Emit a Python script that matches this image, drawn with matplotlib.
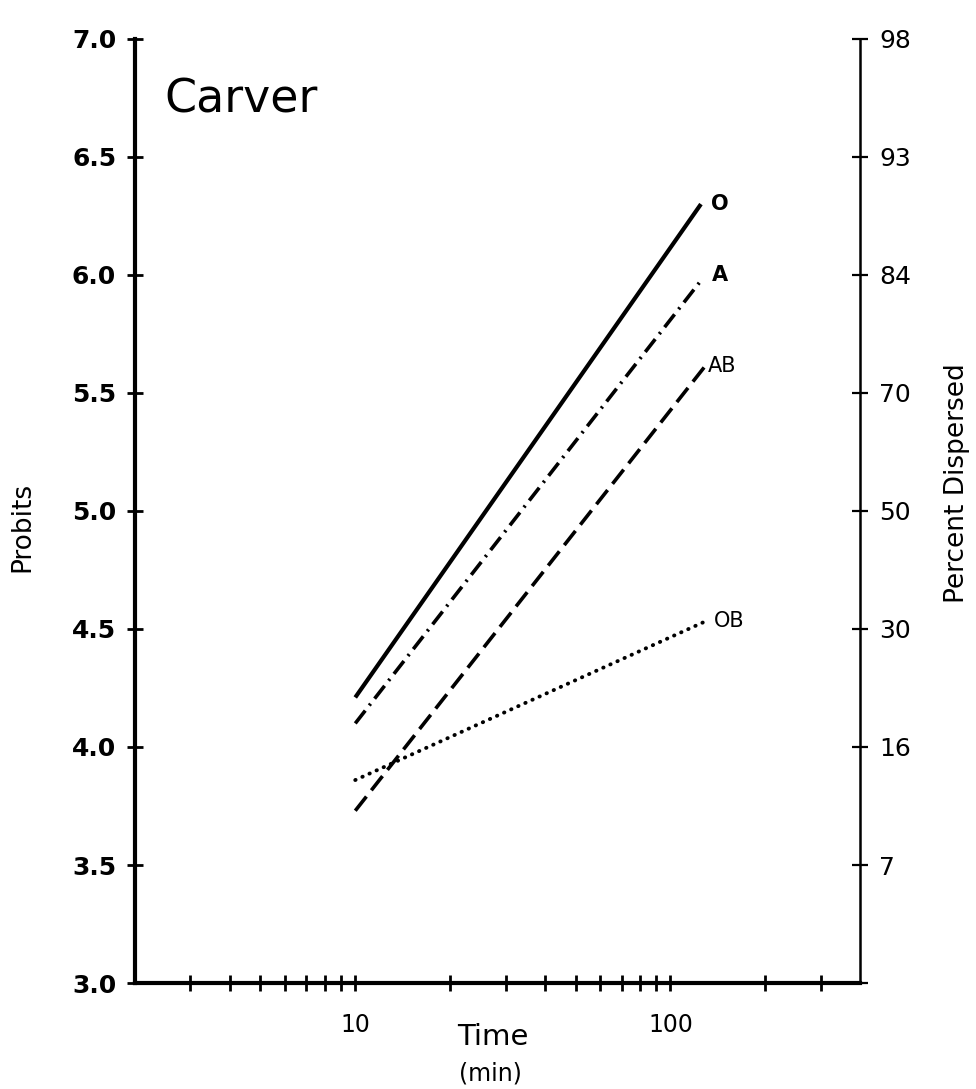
import matplotlib
matplotlib.use("Agg")
import matplotlib.pyplot as plt
from matplotlib.ticker import NullLocator

# probit regression lines for each blood group, time in minutes
groups = ["O", "A", "AB", "OB"]
t_start = [10, 10, 10, 10]
t_end = [125, 124, 130, 128]
probit_start = [4.21, 4.10, 3.73, 3.86]
probit_end = [6.30, 5.97, 5.62, 4.53]

probit_ticks = [3.0, 3.5, 4.0, 4.5, 5.0, 5.5, 6.0, 6.5, 7.0]
percent_labels = ["", "7", "16", "30", "50", "70", "84", "93", "98"]
time_ticks = [3, 4, 5, 6, 7, 8, 9, 10, 20, 30, 40, 50, 60, 70, 80, 90, 100, 200, 300]
time_labels = ["10", "100"]

# line style / label styling per group
styles = {
    "O": dict(linestyle="-", lw=3.0),
    "A": dict(dashes=(4.5, 1.8, 0.6, 1.8), lw=2.6),
    "AB": dict(dashes=(5.0, 2.2), lw=2.6),
    "OB": dict(dashes=(0.1, 1.9), lw=2.8, dash_capstyle="round"),
}
label_off = {"O": (7, 0), "A": (9, 5), "AB": (1, -1), "OB": (7, 1)}
label_weight = {"O": "bold", "A": "bold", "AB": "normal", "OB": "normal"}

fig = plt.figure(figsize=(9.76, 10.89), dpi=100)
ax = fig.add_axes([0.1383, 0.0973, 0.743, 0.867])

for g, x0, x1, y0, y1 in zip(groups, t_start, t_end, probit_start, probit_end):
    ax.plot([x0, x1], [y0, y1], color="black", solid_capstyle="butt", **styles[g])
    ax.annotate(g, xy=(x1, y1), xytext=label_off[g], textcoords="offset points",
                ha="left", va="center", fontsize=15, fontweight=label_weight[g])

ax.set_xscale("log")
ax.set_xlim(2, 400)
ax.set_ylim(3.0, 7.0)

ax.xaxis.set_minor_locator(NullLocator())
ax.set_xticks(time_ticks)
ax.set_xticklabels([str(t) if str(t) in time_labels else "" for t in time_ticks],
                   fontsize=17)
ax.set_yticks(probit_ticks)
ax.set_yticklabels([f"{p:.1f}" for p in probit_ticks], fontsize=18, fontweight="bold")

ax.tick_params(axis="both", direction="inout", length=11, width=2.0, color="black")
ax.tick_params(axis="x", pad=16)
ax.tick_params(axis="y", pad=8)

for side in ["top", "right"]:
    ax.spines[side].set_visible(False)
ax.spines["left"].set_linewidth(3.0)
ax.spines["bottom"].set_linewidth(3.0)

# percent scale on the right, same probit positions
ax2 = ax.twinx()
ax2.set_ylim(3.0, 7.0)
ax2.set_yticks(probit_ticks)
ax2.set_yticklabels(percent_labels, fontsize=18)
ax2.tick_params(axis="y", direction="inout", length=11, width=1.6, pad=8)
for side in ["top", "left", "bottom"]:
    ax2.spines[side].set_visible(False)
ax2.spines["right"].set_linewidth(1.8)

ax.text(0.04, 0.935, "Carver", transform=ax.transAxes, fontsize=33,
        ha="left", va="center")

fig.text(0.0225, 0.516, "Probits", rotation=90, ha="center", va="center",
         fontsize=19)
fig.text(0.981, 0.556, "Percent Dispersed", rotation=90, ha="center", va="center",
         fontsize=19)
fig.text(0.505, 0.0475, "Time", ha="center", va="center", fontsize=21)
fig.text(0.502, 0.0145, "(min)", ha="center", va="center", fontsize=17)

fig.savefig("out.png", dpi=100)
